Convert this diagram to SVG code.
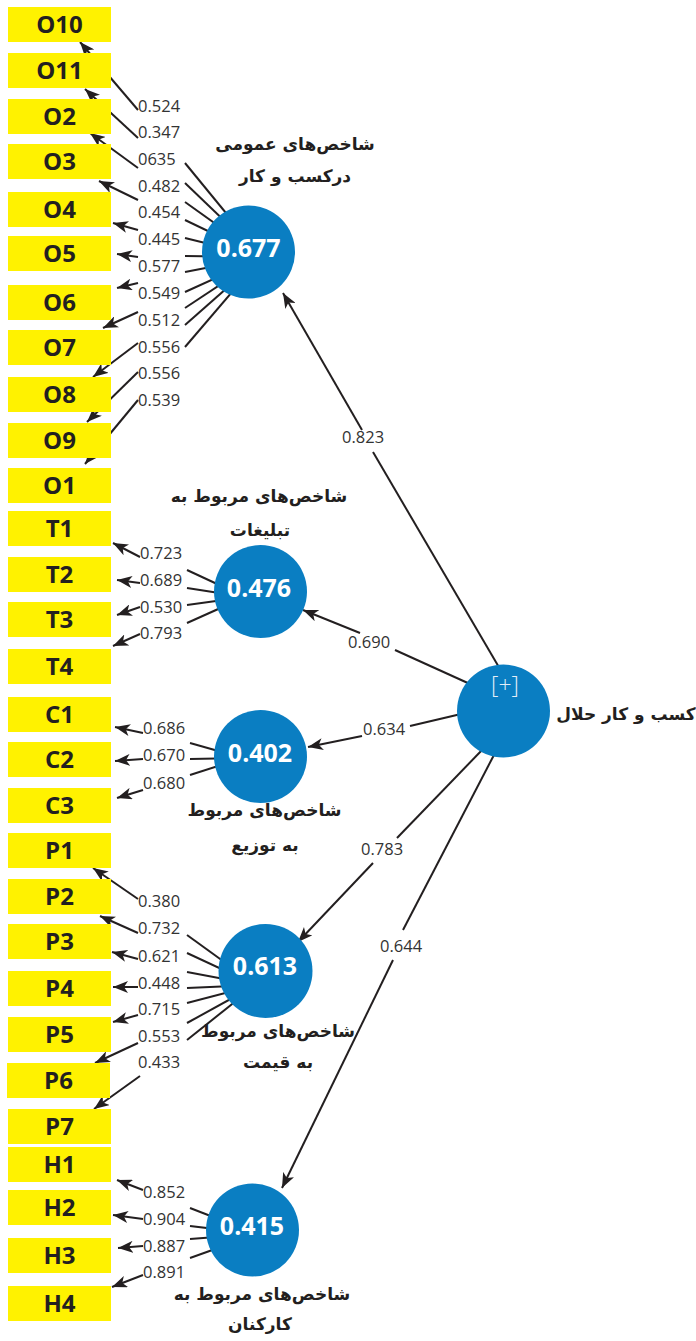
<svg xmlns="http://www.w3.org/2000/svg" width="696" height="1341" viewBox="0 0 696 1341">
<style>
.ln{stroke:#231f20;stroke-width:2;fill:none}
.ar{marker-end:url(#ah)}
.box{fill:#fff200}
.bt{font-family:"Open Sans","Liberation Sans",sans-serif;font-weight:bold;font-size:24px;fill:#231f20;text-anchor:middle}
.lv{font-family:"Open Sans","Liberation Sans",sans-serif;font-size:16.5px;fill:#333}
.cir{fill:#0a7ec2}
.ct{font-family:"Open Sans","Liberation Sans",sans-serif;font-weight:bold;font-size:25px;fill:#fff;text-anchor:middle}
.fa{font-family:"DejaVu Sans",sans-serif;font-weight:bold;font-size:17px;fill:#231f20;text-anchor:middle}
</style>
<defs>
<marker id="ah" markerUnits="userSpaceOnUse" markerWidth="16" markerHeight="12" refX="15" refY="6" orient="auto">
<path d="M0,0 L15,6 L0,12 L4,6 z" fill="#231f20"/>
</marker>
</defs>
<g id="connectors">
<line class="ln ar" x1="138" y1="110" x2="80" y2="42"/>
<line class="ln ar" x1="138" y1="138" x2="85" y2="89"/>
<line class="ln ar" x1="138" y1="168" x2="90" y2="133"/>
<line class="ln ar" x1="138" y1="200" x2="99" y2="181"/>
<line class="ln ar" x1="138" y1="230" x2="113" y2="223"/>
<line class="ln ar" x1="138" y1="257" x2="117" y2="254"/>
<line class="ln ar" x1="138" y1="283" x2="117" y2="288"/>
<line class="ln ar" x1="138" y1="312" x2="103" y2="328"/>
<line class="ln ar" x1="138" y1="343" x2="93" y2="377"/>
<line class="ln ar" x1="138" y1="372" x2="87" y2="422"/>
<line class="ln ar" x1="138" y1="400" x2="85" y2="464"/>
<line class="ln" x1="185" y1="163" x2="262" y2="257"/>
<line class="ln" x1="185" y1="183" x2="262" y2="257"/>
<line class="ln" x1="185" y1="202" x2="262" y2="257"/>
<line class="ln" x1="185" y1="220" x2="262" y2="257"/>
<line class="ln" x1="185" y1="238" x2="262" y2="257"/>
<line class="ln" x1="185" y1="256" x2="262" y2="257"/>
<line class="ln" x1="185" y1="272" x2="262" y2="257"/>
<line class="ln" x1="185" y1="292" x2="262" y2="257"/>
<line class="ln" x1="185" y1="308" x2="262" y2="257"/>
<line class="ln" x1="185" y1="325" x2="262" y2="257"/>
<line class="ln" x1="185" y1="347" x2="262" y2="257"/>
<line class="ln ar" x1="140" y1="557" x2="113" y2="543"/>
<line class="ln ar" x1="140" y1="583" x2="117" y2="580"/>
<line class="ln ar" x1="140" y1="607" x2="117" y2="615"/>
<line class="ln ar" x1="140" y1="634" x2="113" y2="646"/>
<line class="ln" x1="187" y1="570" x2="245" y2="597"/>
<line class="ln" x1="187" y1="588" x2="245" y2="597"/>
<line class="ln" x1="187" y1="605" x2="245" y2="597"/>
<line class="ln" x1="187" y1="623" x2="245" y2="597"/>
<line class="ln ar" x1="143" y1="733" x2="115" y2="727"/>
<line class="ln ar" x1="143" y1="759" x2="115" y2="761"/>
<line class="ln ar" x1="143" y1="790" x2="117" y2="798"/>
<line class="ln" x1="190" y1="743" x2="243" y2="758"/>
<line class="ln" x1="190" y1="759" x2="243" y2="758"/>
<line class="ln" x1="190" y1="775" x2="243" y2="758"/>
<line class="ln ar" x1="138" y1="899" x2="93" y2="868"/>
<line class="ln ar" x1="138" y1="933" x2="100" y2="916"/>
<line class="ln ar" x1="138" y1="959" x2="112" y2="952"/>
<line class="ln ar" x1="138" y1="987" x2="113" y2="987"/>
<line class="ln ar" x1="138" y1="1015" x2="113" y2="1022"/>
<line class="ln ar" x1="138" y1="1043" x2="95" y2="1063"/>
<line class="ln ar" x1="140" y1="1076" x2="94" y2="1109"/>
<line class="ln" x1="187" y1="935" x2="256" y2="985"/>
<line class="ln" x1="187" y1="953" x2="256" y2="985"/>
<line class="ln" x1="187" y1="972" x2="256" y2="985"/>
<line class="ln" x1="187" y1="988" x2="256" y2="985"/>
<line class="ln" x1="187" y1="1003" x2="256" y2="985"/>
<line class="ln" x1="187" y1="1023" x2="256" y2="985"/>
<line class="ln" x1="187" y1="1040" x2="256" y2="985"/>
<line class="ln ar" x1="143" y1="1190" x2="117" y2="1180"/>
<line class="ln ar" x1="143" y1="1219" x2="113" y2="1215"/>
<line class="ln ar" x1="143" y1="1246" x2="118" y2="1248"/>
<line class="ln ar" x1="143" y1="1275" x2="112" y2="1287"/>
<line class="ln" x1="190" y1="1208" x2="257" y2="1234"/>
<line class="ln" x1="190" y1="1226" x2="257" y2="1234"/>
<line class="ln" x1="190" y1="1239" x2="257" y2="1234"/>
<line class="ln" x1="190" y1="1258" x2="257" y2="1234"/>
<line class="ln" x1="500" y1="669" x2="373" y2="452"/>
<line class="ln ar" x1="362" y1="430" x2="283" y2="293"/>
<line class="ln" x1="470" y1="684" x2="395" y2="650"/>
<line class="ln ar" x1="360" y1="633" x2="303" y2="610"/>
<line class="ln" x1="461" y1="714" x2="410" y2="726"/>
<line class="ln ar" x1="362" y1="736" x2="308" y2="747"/>
<line class="ln" x1="483" y1="749" x2="397" y2="838"/>
<line class="ln ar" x1="373" y1="863" x2="298" y2="942"/>
<line class="ln" x1="495" y1="753" x2="403" y2="930"/>
<line class="ln ar" x1="393" y1="960" x2="282" y2="1188"/>
</g>
<g id="loadings">
<text class="lv" x="138" y="112">0.524</text>
<text class="lv" x="138" y="138">0.347</text>
<text class="lv" x="138" y="165">0635</text>
<text class="lv" x="138" y="192">0.482</text>
<text class="lv" x="138" y="218">0.454</text>
<text class="lv" x="138" y="245">0.445</text>
<text class="lv" x="138" y="272">0.577</text>
<text class="lv" x="138" y="299">0.549</text>
<text class="lv" x="138" y="326">0.512</text>
<text class="lv" x="138" y="353">0.556</text>
<text class="lv" x="138" y="379">0.556</text>
<text class="lv" x="138" y="406">0.539</text>
<text class="lv" x="140" y="559">0.723</text>
<text class="lv" x="140" y="586">0.689</text>
<text class="lv" x="140" y="613">0.530</text>
<text class="lv" x="140" y="639">0.793</text>
<text class="lv" x="143" y="734">0.686</text>
<text class="lv" x="143" y="761">0.670</text>
<text class="lv" x="143" y="789">0.680</text>
<text class="lv" x="138" y="907">0.380</text>
<text class="lv" x="138" y="934">0.732</text>
<text class="lv" x="138" y="962">0.621</text>
<text class="lv" x="138" y="989">0.448</text>
<text class="lv" x="138" y="1015">0.715</text>
<text class="lv" x="138" y="1042">0.553</text>
<text class="lv" x="138" y="1068">0.433</text>
<text class="lv" x="143" y="1198">0.852</text>
<text class="lv" x="143" y="1225">0.904</text>
<text class="lv" x="143" y="1252">0.887</text>
<text class="lv" x="143" y="1278">0.891</text>
<text class="lv" x="342" y="443">0.823</text>
<text class="lv" x="348" y="648">0.690</text>
<text class="lv" x="363" y="735">0.634</text>
<text class="lv" x="361" y="855">0.783</text>
<text class="lv" x="380" y="952">0.644</text>
</g>
<g id="O10"><rect class="box" x="8" y="7" width="103" height="35"/><text class="bt" x="59.5" y="33">O10</text></g>
<g id="O11"><rect class="box" x="8" y="53" width="103" height="35"/><text class="bt" x="59.5" y="79">O11</text></g>
<g id="O2"><rect class="box" x="8" y="99" width="103" height="35"/><text class="bt" x="59.5" y="125">O2</text></g>
<g id="O3"><rect class="box" x="8" y="144" width="103" height="35"/><text class="bt" x="59.5" y="170">O3</text></g>
<g id="O4"><rect class="box" x="8" y="192" width="103" height="35"/><text class="bt" x="59.5" y="218">O4</text></g>
<g id="O5"><rect class="box" x="8" y="236" width="103" height="35"/><text class="bt" x="59.5" y="262">O5</text></g>
<g id="O6"><rect class="box" x="8" y="285" width="103" height="35"/><text class="bt" x="59.5" y="311">O6</text></g>
<g id="O7"><rect class="box" x="8" y="330" width="103" height="35"/><text class="bt" x="59.5" y="356">O7</text></g>
<g id="O8"><rect class="box" x="8" y="377" width="103" height="35"/><text class="bt" x="59.5" y="403">O8</text></g>
<g id="O9"><rect class="box" x="8" y="423" width="103" height="35"/><text class="bt" x="59.5" y="449">O9</text></g>
<g id="O1"><rect class="box" x="8" y="468" width="103" height="35"/><text class="bt" x="59.5" y="494">O1</text></g>
<g id="T1"><rect class="box" x="8" y="511" width="103" height="35"/><text class="bt" x="59.5" y="537">T1</text></g>
<g id="T2"><rect class="box" x="8" y="557" width="103" height="35"/><text class="bt" x="59.5" y="583">T2</text></g>
<g id="T3"><rect class="box" x="8" y="602" width="103" height="35"/><text class="bt" x="59.5" y="628">T3</text></g>
<g id="T4"><rect class="box" x="8" y="649" width="103" height="35"/><text class="bt" x="59.5" y="675">T4</text></g>
<g id="C1"><rect class="box" x="8" y="697" width="103" height="35"/><text class="bt" x="59.5" y="723">C1</text></g>
<g id="C2"><rect class="box" x="8" y="742" width="103" height="35"/><text class="bt" x="59.5" y="768">C2</text></g>
<g id="C3"><rect class="box" x="8" y="788" width="103" height="35"/><text class="bt" x="59.5" y="814">C3</text></g>
<g id="P1"><rect class="box" x="8" y="833" width="103" height="35"/><text class="bt" x="59.5" y="859">P1</text></g>
<g id="P2"><rect class="box" x="8" y="879" width="103" height="35"/><text class="bt" x="59.5" y="905">P2</text></g>
<g id="P3"><rect class="box" x="8" y="924" width="103" height="35"/><text class="bt" x="59.5" y="950">P3</text></g>
<g id="P4"><rect class="box" x="8" y="971" width="103" height="35"/><text class="bt" x="59.5" y="997">P4</text></g>
<g id="P5"><rect class="box" x="8" y="1017" width="103" height="35"/><text class="bt" x="59.5" y="1043">P5</text></g>
<g id="P6"><rect class="box" x="7" y="1063" width="103" height="35"/><text class="bt" x="58.5" y="1089">P6</text></g>
<g id="P7"><rect class="box" x="8" y="1109" width="103" height="35"/><text class="bt" x="59.5" y="1135">P7</text></g>
<g id="H1"><rect class="box" x="8" y="1147" width="103" height="35"/><text class="bt" x="59.5" y="1173">H1</text></g>
<g id="H2"><rect class="box" x="8" y="1190" width="103" height="35"/><text class="bt" x="59.5" y="1216">H2</text></g>
<g id="H3"><rect class="box" x="8" y="1238" width="103" height="35"/><text class="bt" x="59.5" y="1264">H3</text></g>
<g id="H4"><rect class="box" x="8" y="1286" width="103" height="35"/><text class="bt" x="59.5" y="1312">H4</text></g>
<g id="general">
<circle class="cir" cx="248.5" cy="252" r="46.5"/>
<text class="ct" x="248.5" y="257">0.677</text>
<text class="fa" x="295" y="150">شاخص‌های عمومی</text>
<text class="fa" x="295" y="182">درکسب و کار</text>
</g>
<g id="advertising">
<circle class="cir" cx="260.5" cy="591.5" r="46.5"/>
<text class="ct" x="259" y="597">0.476</text>
<text class="fa" x="259" y="502">شاخص‌های مربوط به</text>
<text class="fa" x="260" y="536">تبلیغات</text>
</g>
<g id="distribution">
<circle class="cir" cx="260.5" cy="756.5" r="46.5"/>
<text class="ct" x="260" y="762">0.402</text>
<text class="fa" x="264.5" y="816">شاخص‌های مربوط</text>
<text class="fa" x="265" y="851">به توزیع</text>
</g>
<g id="price">
<circle class="cir" cx="265.5" cy="971" r="47"/>
<text class="ct" x="265" y="975">0.613</text>
<text class="fa" x="278" y="1037">شاخص‌های مربوط</text>
<text class="fa" x="278" y="1068">به قیمت</text>
</g>
<g id="staff">
<circle class="cir" cx="252.5" cy="1230" r="46.5"/>
<text class="ct" x="252" y="1235">0.415</text>
<text class="fa" x="262" y="1300">شاخص‌های مربوط به</text>
<text class="fa" x="260" y="1330">کارکنان</text>
</g>
<g id="halal">
<circle class="cir" cx="503.5" cy="711" r="46.5"/>
<text x="505" y="693" font-family="Open Sans, Liberation Sans, sans-serif" font-size="23" font-weight="300" fill="#e3eef8" text-anchor="middle">[+]</text>
<text class="fa" x="626" y="720">کسب و کار حلال</text>
</g>
</svg>
